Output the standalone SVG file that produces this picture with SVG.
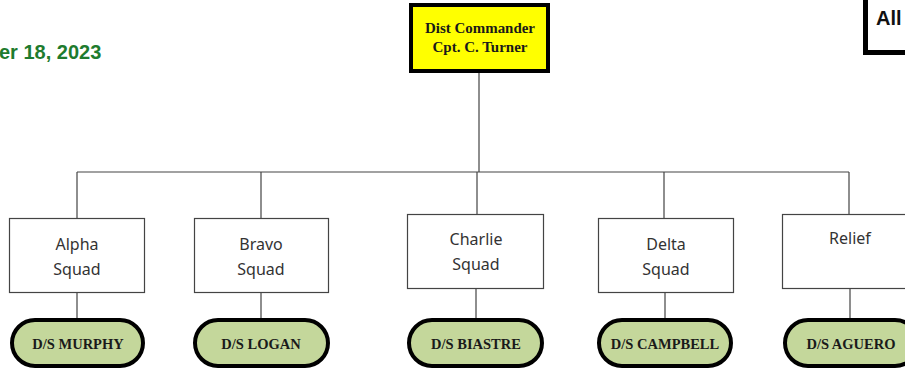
<svg xmlns="http://www.w3.org/2000/svg" width="905" height="370" viewBox="0 0 905 370">
<style>
.bg{fill:#ffffff}
.conn{stroke:#444;stroke-width:1.2;fill:none}
.squad{fill:#ffffff;stroke:#444;stroke-width:1.2}
.squadtxt{font-family:"Noto Sans","Open Sans",sans-serif;font-size:16px;fill:#333;text-anchor:middle}
.pill{fill:#c4d79b;stroke:#000;stroke-width:4}
.pilltxt{font-family:"Liberation Serif",serif;font-weight:bold;font-size:14.5px;fill:#1a1a1a;text-anchor:middle}
.cmd{fill:#ffff00;stroke:#000;stroke-width:4}
.cmdtxt{font-family:"Liberation Serif",serif;font-weight:bold;font-size:15px;fill:#1a1a1a;text-anchor:middle}
</style>
<rect class="bg" x="0" y="0" width="905" height="370"/>
<text x="-1" y="59" font-family="Liberation Sans, Arial, sans-serif" font-weight="bold" font-size="20" fill="#1e7b2e">er 18, 2023</text>
<g id="title-box">
<rect x="865.5" y="-10" width="60" height="62.5" fill="#fff" stroke="#000" stroke-width="5"/>
<text x="876" y="25" font-family="Liberation Sans, Arial, sans-serif" font-weight="bold" font-size="20" fill="#111">All</text>
</g>
<g id="connectors">
<path class="conn" d="M479 73V172M77 172H849M77 172V218.5M261 172V218.5M477 172V214.5M664 172V218.5M849 172V214.5"/>
<path class="conn" d="M77 292.5V318M261 292.5V318M476 288.5V318M665 292.5V318M850 288.5V318"/>
</g>
<g id="commander">
<rect class="cmd" x="411" y="5" width="137" height="66"/>
<text class="cmdtxt" x="480" y="33" textLength="110" lengthAdjust="spacingAndGlyphs">Dist Commander</text>
<text class="cmdtxt" x="480" y="52">Cpt. C. Turner</text>
</g>
<g id="alpha">
<rect class="squad" x="9.5" y="218.5" width="135" height="74"/>
<text class="squadtxt" x="77" y="250">Alpha</text>
<text class="squadtxt" x="77" y="275">Squad</text>
</g>
<g id="bravo">
<rect class="squad" x="194.5" y="218.5" width="134" height="74"/>
<text class="squadtxt" x="261" y="250">Bravo</text>
<text class="squadtxt" x="261" y="275">Squad</text>
</g>
<g id="charlie">
<rect class="squad" x="407.5" y="214.5" width="136" height="74"/>
<text class="squadtxt" x="476" y="245">Charlie</text>
<text class="squadtxt" x="476" y="270">Squad</text>
</g>
<g id="delta">
<rect class="squad" x="598.5" y="218.5" width="135" height="74"/>
<text class="squadtxt" x="666" y="250">Delta</text>
<text class="squadtxt" x="666" y="275">Squad</text>
</g>
<g id="relief">
<rect class="squad" x="782.5" y="214.5" width="140" height="74"/>
<text class="squadtxt" x="850" y="244">Relief</text>
</g>
<g id="murphy">
<rect class="pill" x="12" y="320" width="131" height="46" rx="23"/>
<text class="pilltxt" x="78" y="349">D/S MURPHY</text>
</g>
<g id="logan">
<rect class="pill" x="195" y="320" width="133" height="46" rx="23"/>
<text class="pilltxt" x="261" y="349">D/S LOGAN</text>
</g>
<g id="biastre">
<rect class="pill" x="409" y="320" width="133" height="46" rx="23"/>
<text class="pilltxt" x="476" y="349">D/S BIASTRE</text>
</g>
<g id="campbell">
<rect class="pill" x="599" y="320" width="132" height="46" rx="23"/>
<text class="pilltxt" x="665" y="349">D/S CAMPBELL</text>
</g>
<g id="aguero">
<rect class="pill" x="785" y="320" width="133" height="46" rx="23"/>
<text class="pilltxt" x="851" y="349">D/S AGUERO</text>
</g>
</svg>
